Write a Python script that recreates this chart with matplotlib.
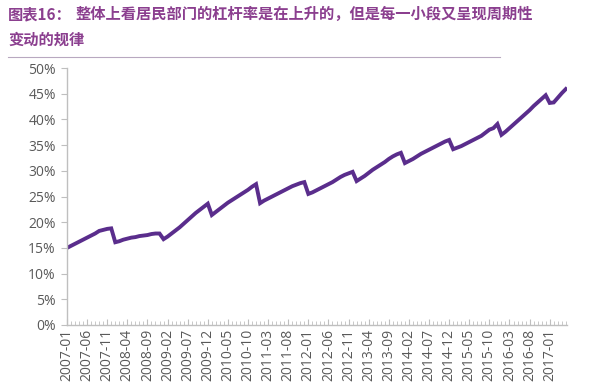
import matplotlib
matplotlib.use("Agg")
import matplotlib.pyplot as plt
import numpy as np
import pandas as pd

plt.rcParams['font.family'] = ['Noto Sans CJK SC', 'DejaVu Sans']

start_month = "2007-01"
values = [
    15.0, 15.4, 15.8, 16.2, 16.6, 17.0, 17.4, 17.8, 18.3, 18.5, 18.7, 18.8,   # 2007
    16.1, 16.3, 16.6, 16.8, 17.0, 17.1, 17.3, 17.4, 17.5, 17.7, 17.8, 17.8,   # 2008
    16.7, 17.2, 17.8, 18.4, 19.0, 19.7, 20.4, 21.1, 21.8, 22.4, 23.0, 23.6,   # 2009
    21.4, 22.0, 22.6, 23.2, 23.8, 24.3, 24.8, 25.3, 25.8, 26.3, 26.9, 27.4,   # 2010
    23.7, 24.2, 24.6, 25.0, 25.4, 25.8, 26.2, 26.6, 27.0, 27.3, 27.6, 27.8,   # 2011
    25.5, 25.8, 26.2, 26.6, 27.0, 27.4, 27.8, 28.3, 28.8, 29.2, 29.5, 29.8,   # 2012
    28.0, 28.5, 29.0, 29.6, 30.2, 30.7, 31.2, 31.7, 32.3, 32.8, 33.2, 33.5,   # 2013
    31.5, 31.9, 32.3, 32.8, 33.3, 33.7, 34.1, 34.5, 34.9, 35.3, 35.7, 36.0,   # 2014
    34.2, 34.5, 34.8, 35.2, 35.6, 36.0, 36.4, 36.8, 37.4, 38.0, 38.3, 39.1,   # 2015
    37.0, 37.6, 38.3, 39.0, 39.7, 40.4, 41.1, 41.8, 42.6, 43.3, 44.0, 44.7,   # 2016
    43.2, 43.3, 44.2, 45.1, 45.9,                                             # 2017
]
months = pd.period_range(start_month, periods=len(values), freq="M").strftime("%Y-%m").tolist()
tick_step = 5
y_ticks = [0, 5, 10, 15, 20, 25, 30, 35, 40, 45, 50]

title_prefix = "图表16："
title_line1 = "整体上看居民部门的杠杆率是在上升的，但是每一小段又呈现周期性"
title_line2 = "变动的规律"

fig = plt.figure(figsize=(6.15, 3.9), dpi=100)
fig.patch.set_facecolor("white")
ax = fig.add_axes([67/615, 1-325/390, 500/615, 257/390])

x = np.arange(len(values))
ax.plot(x, values, color="#5a2d8c", linewidth=2.8, solid_joinstyle="miter")

ax.set_xlim(0, len(values) - 0.7)
ax.set_ylim(0, 50)
ax.set_yticks(y_ticks)
ax.set_yticklabels([f"{v}%" for v in y_ticks])
ax.set_xticks(x[::tick_step])
ax.set_xticklabels(months[::tick_step], rotation=90)
ax.set_xticks(x, minor=True)

for s in ["top", "right"]:
    ax.spines[s].set_visible(False)
for s in ["left", "bottom"]:
    ax.spines[s].set_color("#bfbfbf")
    ax.spines[s].set_linewidth(1.0)

ax.tick_params(axis="y", length=4, color="#bfbfbf", labelsize=10, labelcolor="#595959", pad=4)
ax.tick_params(axis="x", which="major", length=4, color="#bfbfbf", labelsize=10, labelcolor="#595959", pad=3, direction="in")
ax.tick_params(axis="x", which="minor", length=3, color="#bfbfbf", direction="in")
for lab in ax.get_xticklabels() + ax.get_yticklabels():
    lab.set_family(["Open Sans", "DejaVu Sans"])

title_color = "#8b3f8f"
fig.text(8/615, 1-14/390, title_prefix, color=title_color, fontsize=11, fontweight="bold", va="center", ha="left")
fig.text(76/615, 1-14/390, title_line1, color=title_color, fontsize=11, fontweight="bold", va="center", ha="left")
fig.text(8/615, 1-40/390, title_line2, color=title_color, fontsize=11, fontweight="bold", va="center", ha="left")
fig.add_artist(plt.Line2D([8/615, 500/615], [1-57/390, 1-57/390], color="#b8a8c0", linewidth=0.8))

fig.savefig("out.png", dpi=100, facecolor="white")
